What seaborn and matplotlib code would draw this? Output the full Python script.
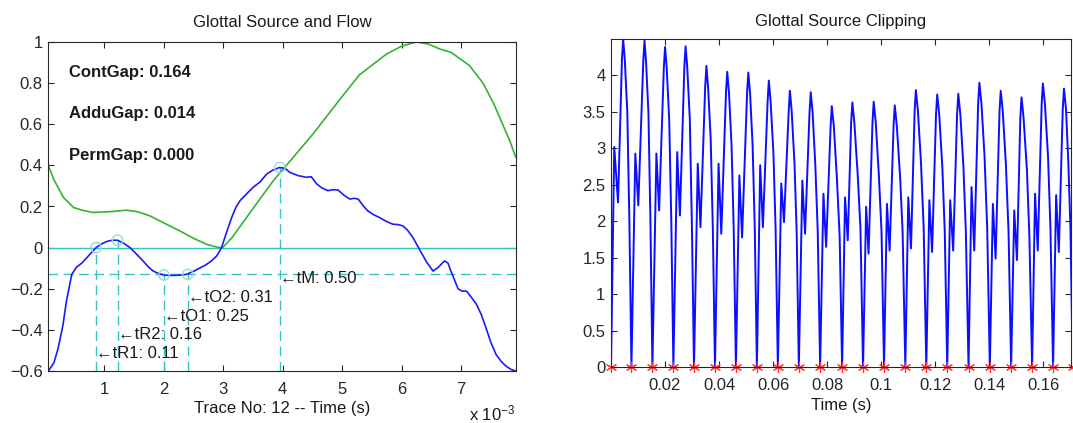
import numpy as np
import matplotlib
matplotlib.use("Agg")
import matplotlib.pyplot as plt
import seaborn as sns
from matplotlib.ticker import FuncFormatter

# ---------------- Left panel data (time in ms) ----------------
src_t = [0.055, 0.15, 0.22, 0.30, 0.36, 0.45, 0.53, 0.62, 0.70, 0.78, 0.86, 0.95, 1.04, 1.13,
         1.22, 1.32, 1.43, 1.54, 1.65, 1.74, 1.82, 1.91, 2.00, 2.10, 2.20, 2.30, 2.38, 2.50,
         2.61, 2.70, 2.80, 2.89, 2.97, 3.05, 3.14, 3.21, 3.28, 3.38, 3.50, 3.62, 3.73, 3.84,
         3.95, 4.04, 4.12, 4.26, 4.40, 4.48, 4.57, 4.66, 4.76, 4.85, 4.93, 5.03, 5.13, 5.20,
         5.27, 5.35, 5.43, 5.53, 5.63, 5.74, 5.85, 5.94, 6.02, 6.10, 6.19, 6.30, 6.42, 6.53,
         6.62, 6.72, 6.78, 6.83, 6.95, 7.02, 7.09, 7.17, 7.26, 7.34, 7.42, 7.50, 7.59, 7.68,
         7.76, 7.84, 7.92]
src_y = [-0.600, -0.560, -0.490, -0.380, -0.260, -0.130, -0.095, -0.075, -0.050, -0.025,
         0.000, 0.018, 0.030, 0.036, 0.036, 0.022, 0.000, -0.032, -0.065, -0.094, -0.114,
         -0.126, -0.133, -0.135, -0.135, -0.133, -0.130, -0.115, -0.098, -0.085, -0.065,
         -0.040, 0.000, 0.070, 0.146, 0.195, 0.228, 0.258, 0.293, 0.320, 0.358, 0.378, 0.390,
         0.385, 0.366, 0.350, 0.342, 0.345, 0.310, 0.290, 0.277, 0.282, 0.280, 0.255, 0.236,
         0.240, 0.236, 0.205, 0.179, 0.160, 0.146, 0.128, 0.114, 0.112, 0.106, 0.085, 0.049,
         -0.008, -0.070, -0.114, -0.095, -0.065, -0.075, -0.114, -0.200, -0.212, -0.211,
         -0.240, -0.276, -0.325, -0.390, -0.460, -0.520, -0.555, -0.577, -0.592, -0.600]

flow_t = [0.055, 0.15, 0.31, 0.48, 0.65, 0.81, 1.10, 1.37, 1.55, 1.76, 2.00, 2.27, 2.50,
          2.72, 2.90, 2.99, 3.15, 3.39, 3.60, 3.84, 4.12, 4.51, 5.00, 5.29, 5.74, 6.00,
          6.25, 6.45, 6.65, 6.83, 7.14, 7.37, 7.55, 7.70, 7.82, 7.92]
flow_y = [0.40, 0.33, 0.244, 0.195, 0.18, 0.171, 0.175, 0.182, 0.175, 0.155, 0.12, 0.081, 0.045,
          0.016, 0.002, 0.0, 0.05, 0.146, 0.23, 0.325, 0.42, 0.553, 0.735, 0.84, 0.94, 0.98,
          1.0, 0.99, 0.965, 0.95, 0.886, 0.80, 0.70, 0.60, 0.52, 0.44]

mark_t = [0.86, 1.22, 2.00, 2.40, 3.95]
mark_y = [0.0, 0.036, -0.133, -0.13, 0.39]
mark_labels = ["tR1: 0.11", "tR2: 0.16", "tO1: 0.25", "tO2: 0.31", "tM: 0.50"]
mark_label_y = [-0.515, -0.423, -0.333, -0.244, -0.15]
thresh_y = -0.13
gap_labels = ["ContGap: 0.164", "AdduGap: 0.014", "PermGap: 0.000"]
gap_y = [0.85, 0.65, 0.45]

# ---------------- Right panel data (time in ms) ----------------
star_t = [0.0, 7.56, 15.32, 23.08, 30.71, 38.47, 46.22, 53.98, 61.74, 69.50, 77.38, 85.51,
          93.26, 101.02, 108.90, 116.66, 124.41, 132.29, 140.17, 148.05, 155.81, 163.57, 170.83]
sec_t = [1.2, 9.0, 16.8, 24.5, 32.1, 39.8, 47.5, 55.2, 63.0, 70.8, 78.6, 86.6, 94.4, 102.1,
         110.0, 117.8, 125.5, 133.4, 141.3, 149.2, 156.9, 164.7]
sec_y = [3.02, 2.93, 2.93, 2.95, 2.79, 2.79, 2.63, 2.77, 2.52, 2.56, 2.38, 2.33, 2.20, 2.24,
         2.33, 2.29, 2.29, 2.47, 2.24, 2.15, 2.38, 2.36]
dip_t = [2.6, 10.1, 17.8, 25.5, 33.1, 40.8, 48.5, 56.2, 64.0, 71.8, 79.6, 87.6, 95.3, 103.1,
         111.0, 118.8, 126.6, 134.4, 142.3, 150.2, 157.9, 165.7]
dip_y = [2.26, 2.22, 2.15, 2.08, 1.92, 1.83, 1.78, 1.92, 1.99, 1.83, 1.65, 1.74, 1.56, 1.60,
         1.63, 1.58, 1.60, 1.60, 1.49, 1.47, 1.60, 1.58]
pre_t = [4.05, 11.95, 19.55, 27.15, 34.85, 42.55, 50.35, 57.95, 65.75, 73.45, 81.25, 88.85,
         96.75, 104.55, 112.35, 120.25, 128.05, 135.85, 143.75, 151.45, 159.35, 167.15]
pre_y = [4.22, 4.20, 4.11, 4.12, 3.85, 3.77, 3.76, 3.65, 3.51, 3.49, 3.30, 3.35, 3.36, 3.31,
         3.52, 3.46, 3.47, 3.62, 3.51, 3.42, 3.61, 3.54]
peak_t = [4.5, 12.4, 20.0, 27.6, 35.3, 43.0, 50.8, 58.4, 66.2, 73.9, 81.7, 89.3, 97.2, 105.0,
          112.8, 120.7, 128.5, 136.3, 144.2, 151.9, 159.8, 167.6]
peak_y = [4.50, 4.48, 4.39, 4.40, 4.13, 4.05, 4.04, 3.93, 3.79, 3.77, 3.58, 3.63, 3.64, 3.59,
          3.80, 3.74, 3.75, 3.90, 3.79, 3.70, 3.89, 3.82]
notch_t = [5.10, 12.95, 20.60, 28.20, 35.90, 43.65, 51.45, 59.05, 66.85, 74.60, 82.45, 90.05,
           97.95, 105.75, 113.55, 121.45, 129.25, 137.05, 144.95, 152.65, 160.55, 168.35]
notch_y = [4.22, 4.20, 4.11, 4.12, 3.85, 3.77, 3.76, 3.65, 3.51, 3.49, 3.30, 3.35, 3.36, 3.31,
           3.52, 3.46, 3.47, 3.62, 3.51, 3.42, 3.61, 3.54]
fall_t = [6.03, 13.86, 21.54, 29.16, 36.89, 44.6, 52.4, 60.1, 67.9, 75.6, 83.6, 91.3, 99.1,
          107.0, 114.7, 122.6, 130.4, 138.2, 146.1, 153.9, 161.7, 169.2]
fall_y = [3.50, 3.48, 3.39, 3.40, 3.13, 3.05, 3.04, 2.93, 2.79, 2.77, 2.58, 2.63, 2.64, 2.59,
          2.80, 2.74, 2.75, 2.90, 2.79, 2.70, 2.89, 2.82]
low_t = [6.80, 14.59, 22.31, 29.93, 37.68, 45.4, 53.2, 60.9, 68.7, 76.5, 84.6, 92.3, 100.1,
         107.9, 115.7, 123.5, 131.3, 139.2, 147.1, 154.8, 162.6, 170.0]
low_y = [2.0, 2.0, 2.0, 1.95, 1.9, 1.9, 1.9, 1.9, 1.85, 1.85, 1.8, 1.9, 1.85, 1.85, 1.9, 1.85,
         1.85, 1.9, 1.85, 1.8, 1.9, 1.9]

# ---------------- Style ----------------
sns.set_theme(style="ticks")
plt.rcParams['font.family'] = ['Liberation Sans', 'DejaVu Sans']
plt.rcParams.update({
    'mathtext.fontset': 'custom',
    'mathtext.rm': 'Liberation Sans',
    'mathtext.it': 'Liberation Sans',
    'font.size': 12,
    'axes.edgecolor': '0.15',
    'axes.linewidth': 0.8,
    'xtick.direction': 'in', 'ytick.direction': 'in',
    'xtick.top': True, 'ytick.right': True,
    'xtick.major.size': 4, 'ytick.major.size': 4,
    'xtick.major.width': 0.8, 'ytick.major.width': 0.8,
    'xtick.color': '0.15', 'ytick.color': '0.15',
    'xtick.labelsize': 12, 'ytick.labelsize': 12,
    'xtick.major.pad': 8, 'ytick.major.pad': 4,
})

W, H = 1073, 423
fig = plt.figure(figsize=(W / 100, H / 100), dpi=100)
axL = fig.add_axes([48.3 / W, 1 - 371 / H, 467.4 / W, 329 / H])
axR = fig.add_axes([611 / W, 1 - 367.3 / H, 460 / W, 328.3 / H])

cyan = (0.2, 0.77, 0.77)
ltcyan = (0.6, 0.85, 0.85)
ms = 1e-3

# ---------------- Left panel ----------------
axL.axhline(0, color=cyan, lw=1.0, zorder=1)
axL.axhline(thresh_y, color=cyan, lw=1.0, dashes=(7, 4), zorder=1)
axL.vlines(np.array(mark_t) * ms, -0.6, mark_y, colors=[cyan], lw=1.0,
           linestyles=(0, (7, 4)), zorder=1)
sns.lineplot(x=np.array(flow_t) * ms, y=flow_y, ax=axL, color=(0.2, 0.7, 0.2), lw=1.2,
             sort=False, estimator=None, zorder=2)
sns.lineplot(x=np.array(src_t) * ms, y=src_y, ax=axL, color=(0.1, 0.1, 1.0), lw=1.2,
             sort=False, estimator=None, zorder=3)
sns.scatterplot(x=np.array(mark_t) * ms, y=mark_y, ax=axL, marker='o', s=55,
                facecolor='none', edgecolor=ltcyan, linewidth=1.0, zorder=4)
for t, ly, lab in zip(mark_t, mark_label_y, mark_labels):
    axL.text(t * ms, ly, "\u2190" + lab, ha='left', va='center', fontsize=12, color='0.1')
for gy, lab in zip(gap_y, gap_labels):
    axL.text(0.40 * ms, gy, lab, ha='left', va='center', fontsize=12,
             fontweight='bold', color='0.1')

axL.set_xlim(0.055 * ms, 7.92 * ms)
axL.set_ylim(-0.6, 1.0)
axL.set_xticks(np.arange(1, 8) * ms)
axL.xaxis.set_major_formatter(FuncFormatter(lambda v, p: f"{v / ms:.0f}"))
axL.set_yticks(np.arange(-0.6, 1.01, 0.2))
axL.yaxis.set_major_formatter(FuncFormatter(
    lambda v, p: f"{round(v, 3):g}".replace('-', '\u2212') if abs(v) > 1e-9 else "0"))
axL.set_title("Glottal Source and Flow", fontsize=12, pad=11, color='0.1')
axL.set_xlabel("Trace No: 12 -- Time (s)", fontsize=12, labelpad=3, color='0.1')
axL.set_ylabel("")
axL.text(1.0, -0.128, r"x 10$^{-3}$", transform=axL.transAxes, ha='right', va='center',
         fontsize=12, color='0.1')

# ---------------- Right panel ----------------
vt, vy = [], []
for i in range(len(sec_t)):
    vt += [star_t[i], sec_t[i], dip_t[i], pre_t[i], peak_t[i], notch_t[i], fall_t[i], low_t[i]]
    vy += [0.0, sec_y[i], dip_y[i], pre_y[i], peak_y[i], notch_y[i], fall_y[i], low_y[i]]
vt.append(star_t[-1])
vy.append(0.0)
sns.lineplot(x=np.array(vt) * ms, y=vy, ax=axR, color=(0.05, 0.05, 1.0), lw=1.4,
             sort=False, estimator=None)
sns.scatterplot(x=np.array(star_t) * ms, y=np.zeros(len(star_t)), ax=axR,
                marker=(6, 2, 0), s=55, color=(1.0, 0.2, 0.2), edgecolor=(1.0, 0.2, 0.2),
                linewidth=0.8, zorder=5, clip_on=False)
axR.set_xlim(0, 0.1702)
axR.set_ylim(0, 4.5)
axR.set_xticks(np.arange(0.02, 0.161, 0.02))
axR.xaxis.set_major_formatter(FuncFormatter(lambda v, p: f"{round(v, 4):g}"))
axR.set_yticks(np.arange(0, 4.01, 0.5))
axR.yaxis.set_major_formatter(FuncFormatter(lambda v, p: f"{round(v, 3):g}"))
axR.set_title("Glottal Source Clipping", fontsize=12, pad=9, color='0.1')
axR.set_xlabel("Time (s)", fontsize=12, labelpad=3, color='0.1')
axR.set_ylabel("")

for ax in (axL, axR):
    for sp in ax.spines.values():
        sp.set_visible(True)
        sp.set_zorder(6)

fig.savefig("out.png", dpi=100)
